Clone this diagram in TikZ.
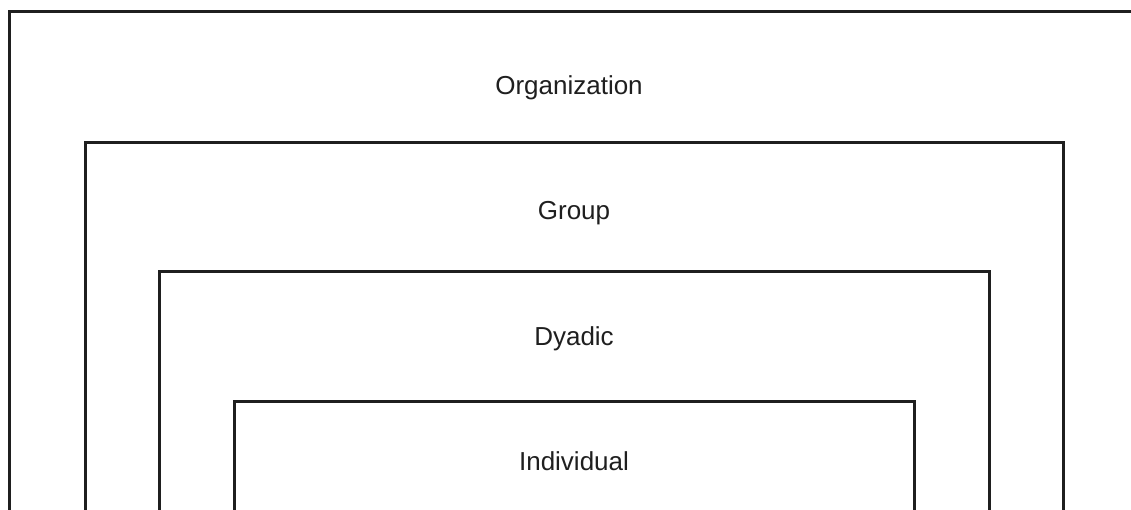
\documentclass[tikz,border=0pt]{standalone}
\usepackage{fontspec}
\setmainfont{Liberation Sans}
\begin{document}
\begin{tikzpicture}[x=1pt,y=-1pt,
  frame/.style={draw=black!88,line width=3pt},
  lbl/.style={font=\fontsize{26}{30}\selectfont,text=black!88,inner sep=0pt,anchor=base}]
\useasboundingbox (0,0) rectangle (1131,510);
\clip (0,0) rectangle (1131,510);
\fill[white] (0,0) rectangle (1131,510);
\draw[frame] (9.5,530) -- (9.5,11.5) -- (1150,11.5);
\draw[frame] (85.5,530) -- (85.5,142.5) -- (1063.5,142.5) -- (1063.5,530);
\draw[frame] (159.5,530) -- (159.5,271.5) -- (989.5,271.5) -- (989.5,530);
\draw[frame] (234,530) -- (234,401.5) -- (914.5,401.5) -- (914.5,530);
\node[lbl] (org) at (569,95) {Organization};
\node[lbl] (grp) at (574,220) {Group};
\node[lbl] (dya) at (574,345) {Dyadic};
\node[lbl] (ind) at (574,470) {Individual};
\end{tikzpicture}
\end{document}
